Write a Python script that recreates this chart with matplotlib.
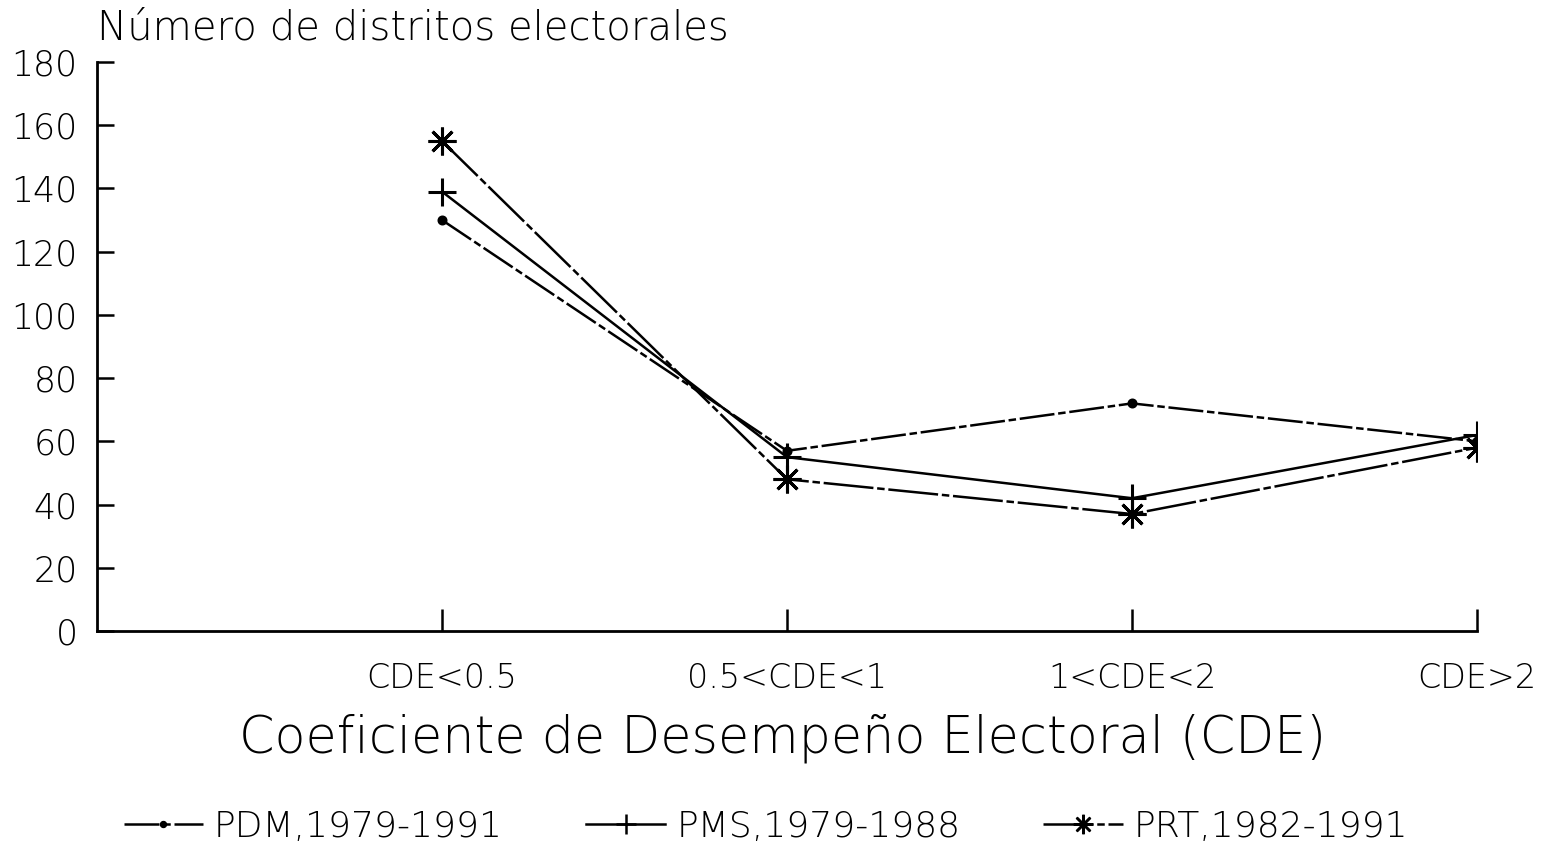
import matplotlib
matplotlib.use("Agg")
import matplotlib.pyplot as plt
from matplotlib.lines import Line2D

plt.rcParams["font.family"] = ["DejaVu Sans"]
plt.rcParams["font.weight"] = "light"

categories = ["CDE<0.5", "0.5<CDE<1", "1<CDE<2", "CDE>2"]
pdm = [130, 57, 72, 60]
pms = [139, 55, 42, 62]
prt = [155, 48, 37, 58]
y_ticks = [0, 20, 40, 60, 80, 100, 120, 140, 160, 180]

series = [
    ("PDM,1979-1991", pdm, "o", 5, (0, (14, 1.5, 3, 1.5))),
    ("PMS,1979-1988", pms, "+", 20, "-"),
    ("PRT,1982-1991", prt, (8, 2, 0), 20, (0, (20, 1.5, 3, 1.5))),
]

fig = plt.figure(figsize=(15.43, 8.46), dpi=100)
ax = fig.add_axes([97 / 1543, 1 - 631 / 846, 1380 / 1543, 569 / 846])

x = [1, 2, 3, 4]
handles = []
for label, vals, mk, ms, ls in series:
    ax.plot(x, vals, color="black", lw=1.8, linestyle=ls,
            marker=mk, markersize=ms, markeredgewidth=2.2,
            markerfacecolor="black", markeredgecolor="black")
    handles.append(Line2D([0], [0], color="black", lw=1.8, linestyle=ls,
                          marker=mk, markersize=ms * 0.7, markeredgewidth=1.8))

ax.set_xlim(0, 4)
ax.set_ylim(0, 180)
ax.set_xticks(x)
ax.set_xticklabels(categories, fontsize=24)
ax.set_yticks(y_ticks)
ax.tick_params(axis="y", direction="in", length=12, width=1.8, pad=14,
               labelsize=25)
ax.tick_params(axis="x", direction="in", length=16, width=1.8, pad=22)

for side in ("top", "right"):
    ax.spines[side].set_visible(False)
for side in ("left", "bottom"):
    ax.spines[side].set_linewidth(2)
ax.spines["bottom"].set_bounds(0, 4)

fig.text(97 / 1543, 1 - 40 / 846, "Número de distritos electorales",
         fontsize=29, ha="left", va="baseline")
fig.text(783 / 1543, 1 - 738 / 846, "Coeficiente de Desempeño Electoral (CDE)",
         fontsize=36.5, ha="center", va="center")

fig.legend(handles, [s[0] for s in series], loc="center", ncol=3,
           bbox_to_anchor=(766 / 1543, 1 - 827 / 846), frameon=False,
           fontsize=26, handlelength=2.2, handletextpad=0.3,
           columnspacing=2.3)

fig.savefig("out.png", dpi=100)
